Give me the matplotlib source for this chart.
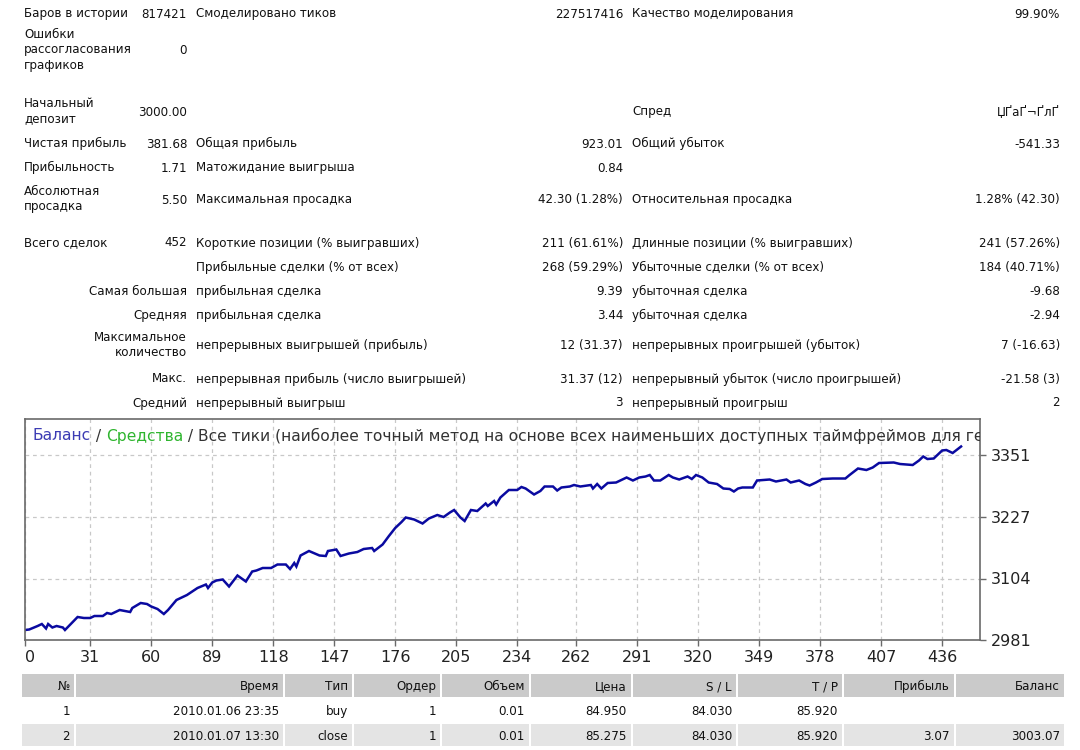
import matplotlib
matplotlib.use("Agg")
import matplotlib.pyplot as plt
from matplotlib.patches import Rectangle

W, H = 1080, 750

# --- summary block -------------------------------------------------------
labels_col1 = ["Баров в истории", "Ошибки\nрассогласования\nграфиков", "Начальный\nдепозит",
               "Чистая прибыль", "Прибыльность", "Абсолютная\nпросадка", "Всего сделок", "",
               "Самая большая", "Средняя", "Максимальное\nколичество", "Макс.", "Средний"]
values_col1 = ["817421", "0", "3000.00", "381.68", "1.71", "5.50", "452", "", "", "", "", "", ""]
labels_col2 = ["Смоделировано тиков", "", "", "Общая прибыль", "Матожидание выигрыша",
               "Максимальная просадка", "Короткие позиции (% выигравших)",
               "Прибыльные сделки (% от всех)", "прибыльная сделка", "прибыльная сделка",
               "непрерывных выигрышей (прибыль)", "непрерывная прибыль (число выигрышей)",
               "непрерывный выигрыш"]
values_col2 = ["227517416", "", "", "923.01", "0.84", "42.30 (1.28%)", "211 (61.61%)",
               "268 (59.29%)", "9.39", "3.44", "12 (31.37)", "31.37 (12)", "3"]
labels_col3 = ["Качество моделирования", "", "Спред", "Общий убыток", "",
               "Относительная просадка", "Длинные позиции (% выигравших)",
               "Убыточные сделки (% от всех)", "убыточная сделка", "убыточная сделка",
               "непрерывных проигрышей (убыток)", "непрерывный убыток (число проигрышей)",
               "непрерывный проигрыш"]
values_col3 = ["99.90%", "", "ЏҐаҐ¬ҐлҐ", "-541.33", "", "1.28% (42.30)", "241 (57.26%)",
               "184 (40.71%)", "-9.68", "-2.94", "7 (-16.63)", "-21.58 (3)", "2"]

# --- balance curve (trade number, balance) -------------------------------
trade_no = [0, 2, 6, 8, 10, 11, 13, 15, 18, 19, 22, 25, 28, 31, 33, 37, 39, 41, 45, 50,
            51, 55, 58, 60, 63, 66, 68, 72, 77, 82, 86, 87, 89, 91, 94, 97, 101, 105, 108,
            110, 113, 117, 120, 124, 126, 128, 129, 131, 135, 140, 143, 144, 148, 150, 154,
            158, 161, 165, 166, 170, 173, 176, 179, 181, 185, 189, 192, 196, 199, 202, 204,
            207, 209, 212, 215, 219, 220, 223, 224, 226, 230, 234, 236, 238, 242, 245,
            247, 251, 253, 255, 259, 261, 264, 269, 270, 272, 274, 277, 281, 284, 286, 289,
            292, 295, 297, 299, 302, 306, 308, 311, 315, 317, 319, 322, 325, 329, 332, 335,
            337, 339, 341, 346, 348, 354, 357, 362, 364, 368, 371, 373, 376, 379, 384, 390,
            392, 396, 400, 403, 406, 413, 416, 422, 425, 427, 429, 432, 436, 438, 441, 445]
balance = [3001, 3002, 3009, 3013, 3004, 3013, 3006, 3009, 3006, 3001, 3014, 3027, 3025, 3025,
           3029, 3029, 3035, 3033, 3041, 3037, 3045, 3055, 3053, 3048, 3043, 3033, 3041, 3061,
           3071, 3085, 3092, 3085, 3096, 3100, 3102, 3088, 3110, 3098, 3118, 3120, 3125, 3125,
           3132, 3132, 3123, 3135, 3128, 3150, 3159, 3150, 3149, 3159, 3162, 3149, 3154, 3157,
           3163, 3165, 3159, 3172, 3189, 3205, 3217, 3226, 3222, 3214, 3224, 3231, 3227, 3236,
           3241, 3226, 3219, 3241, 3239, 3254, 3249, 3259, 3252, 3266, 3281, 3281, 3287, 3284,
           3272, 3279, 3288, 3288, 3280, 3286, 3288, 3291, 3288, 3291, 3284, 3293, 3284, 3295,
           3296, 3302, 3306, 3300, 3306, 3308, 3311, 3300, 3300, 3311, 3306, 3302, 3308, 3303,
           3311, 3306, 3296, 3293, 3284, 3283, 3278, 3284, 3286, 3286, 3300, 3302, 3298, 3302,
           3296, 3300, 3293, 3290, 3296, 3303, 3304, 3304, 3311, 3324, 3321, 3326, 3335, 3336,
           3333, 3331, 3340, 3348, 3343, 3344, 3360, 3361, 3355, 3368]
x_ticks = [0, 31, 60, 89, 118, 147, 176, 205, 234, 262, 291, 320, 349, 378, 407, 436]
y_ticks = [2981, 3104, 3227, 3351]

# --- deals table ----------------------------------------------------------
table_header = ["№", "Время", "Тип", "Ордер", "Объем", "Цена", "S / L", "T / P", "Прибыль", "Баланс"]
table_row1 = ["1", "2010.01.06 23:35", "buy", "1", "0.01", "84.950", "84.030", "85.920", "", ""]
table_row2 = ["2", "2010.01.07 13:30", "close", "1", "0.01", "85.275", "84.030", "85.920", "3.07", "3003.07"]

FS = 8.6


def fx(x):
    return x / W


def fy(y):
    return 1 - y / H


def put(fig, x, y, s, ha):
    # single lines sit on a common baseline, wrapped labels are centred as a block
    if "\n" in s:
        fig.text(fx(x), fy(y), s, ha=ha, va="center", fontsize=FS, color="#111111")
    else:
        fig.text(fx(x), fy(y + 4.5), s, ha=ha, va="baseline", fontsize=FS, color="#111111")


def draw_summary(fig):
    row_y = [13, 50, 111, 143, 167, 199, 242, 266, 290, 314, 345, 378, 402]
    for i, y in enumerate(row_y):
        if i < 8:
            put(fig, 24, y, labels_col1[i], "left")
        else:
            put(fig, 187, y, labels_col1[i], "right")
        put(fig, 187, y, values_col1[i], "right")
        put(fig, 196, y, labels_col2[i], "left")
        put(fig, 623, y, values_col2[i], "right")
        put(fig, 632, y, labels_col3[i], "left")
        put(fig, 1060, y, values_col3[i], "right")


def draw_chart(fig):
    ax = fig.add_axes([fx(25), fy(640), fx(980) - fx(25), fy(419) - fy(640)])
    ax.plot(trade_no, balance, color="#0a0aa0", lw=1.8, solid_joinstyle="miter")
    ax.set_xlim(0, 454)
    ax.set_ylim(2981, 3423)
    ax.set_xticks(x_ticks)
    ax.set_xticklabels([str(t) for t in x_ticks])
    ax.set_yticks(y_ticks)
    ax.set_yticklabels([str(t) for t in y_ticks])
    ax.yaxis.tick_right()
    ax.tick_params(labelsize=11.5, colors="#6a6a6a", labelcolor="#222222",
                   length=4, width=1, direction="out")
    ax.xaxis.get_major_ticks()[0].label1.set_horizontalalignment("left")
    for s in ax.spines.values():
        s.set_color("#6a6a6a")
        s.set_linewidth(1.2)
    ax.grid(True, color="#c8c8c8", lw=0.9, ls=(0, (3, 3)))

    t1 = ax.annotate("Баланс", xy=(0, 1), xycoords="axes fraction", xytext=(8, -17),
                     textcoords="offset pixels", ha="left", va="center",
                     fontsize=11.2, color="#3c3cb4")
    t2 = ax.annotate(" / ", xy=(1, 0), xycoords=t1, ha="left", va="bottom",
                     fontsize=11.2, color="#333333")
    t3 = ax.annotate("Средства", xy=(1, 0), xycoords=t2, ha="left", va="bottom",
                     fontsize=11.2, color="#2fb52f")
    t4 = ax.annotate(" / Все тики (наиболее точный метод на основе всех наименьших доступных таймфреймов для генерации)",
                     xy=(1, 0), xycoords=t3, ha="left", va="bottom",
                     fontsize=11.2, color="#333333")
    t4.set_clip_on(True)
    t4.set_clip_box(ax.bbox)


def draw_table(fig):
    edges = [21, 75, 284, 353, 441, 530, 632, 737, 843, 955, 1065]
    rows = [(674, 697, "#cacaca", table_header),
            (699, 722, "#ffffff", table_row1),
            (724, 746, "#e4e4e4", table_row2)]
    for top, bottom, colour, cells in rows:
        for i in range(len(cells)):
            x0 = edges[i] + 1
            x1 = edges[i + 1] - 1
            fig.add_artist(Rectangle((fx(x0), fy(bottom)), fx(x1) - fx(x0), fy(top) - fy(bottom),
                                     transform=fig.transFigure, facecolor=colour,
                                     edgecolor="none", zorder=0))
            put(fig, x1 - 4, (top + bottom) / 2, cells[i], "right")


def main():
    fig = plt.figure(figsize=(W / 100, H / 100), dpi=100)
    draw_summary(fig)
    draw_chart(fig)
    draw_table(fig)
    fig.savefig("out.png", dpi=100)


if __name__ == "__main__":
    main()
